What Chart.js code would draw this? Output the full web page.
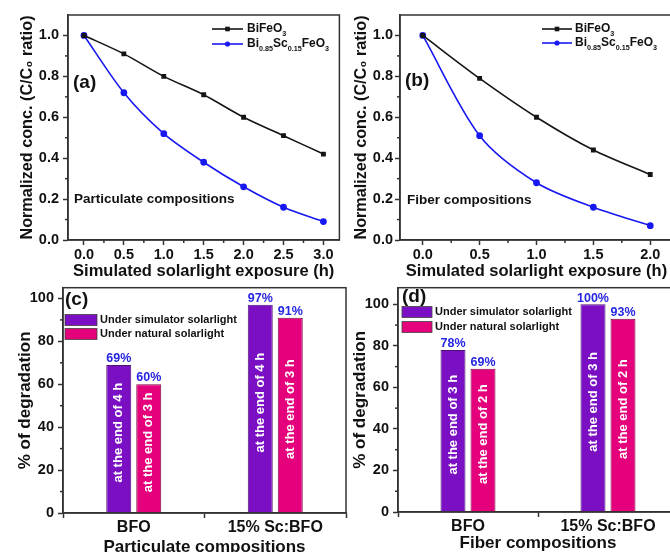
<!DOCTYPE html>
<html>
<head>
<meta charset="utf-8">
<script src="https://cdn.jsdelivr.net/npm/chart.js@4.4.1/dist/chart.umd.min.js"></script>
<style>
  html, body { margin: 0; padding: 0; background: #fff; overflow: hidden; width: 670px; height: 552px; }
  canvas { position: absolute; }
</style>
</head>
<body>
<canvas id="chartA" width="345" height="285" style="left:0;top:0"></canvas>
<canvas id="chartB" width="345" height="285" style="left:345px;top:0"></canvas>
<canvas id="chartC" width="350" height="290" style="left:0;top:275px"></canvas>
<canvas id="chartD" width="345" height="290" style="left:345px;top:275px"></canvas>
<script>
// ---- data ----
const hoursA = [0, 0.5, 1.0, 1.5, 2.0, 2.5, 3.0];
const bfoA = [1.0, 0.91, 0.80, 0.71, 0.60, 0.51, 0.42];
const scA = [1.0, 0.72, 0.52, 0.38, 0.26, 0.16, 0.09];

const hoursB = [0, 0.5, 1.0, 1.5, 2.0];
const bfoB = [1.0, 0.79, 0.60, 0.44, 0.32];
const scB = [1.0, 0.51, 0.28, 0.16, 0.07];

const xTicksA = [0, 0.5, 1.0, 1.5, 2.0, 2.5, 3.0];
const xTicksB = [0, 0.5, 1.0, 1.5, 2.0];
const yTicksLine = [0, 0.2, 0.4, 0.6, 0.8, 1.0];
const yTicksBar = [0, 20, 40, 60, 80, 100];

const barCats = ['BFO', '15% Sc:BFO'];
const simC = [69, 97];
const natC = [60, 91];
const simD = [78, 100];
const natD = [69, 93];
const notesSimC = ['at the end of 4 h', 'at the end of 4 h'];
const notesNatC = ['at the end of 3 h', 'at the end of 3 h'];
const notesSimD = ['at the end of 3 h', 'at the end of 3 h'];
const notesNatD = ['at the end of 2 h', 'at the end of 2 h'];

// series names with subscripts: [text, isSubscript]
const nameBFO = [['BiFeO', 0], ['3', 1]];
const nameSc = [['Bi', 0], ['0.85', 1], ['Sc', 0], ['0.15', 1], ['FeO', 0], ['3', 1]];
const barNames = ['Under simulator solarlight', 'Under natural solarlight'];

const FONT = "'Liberation Sans', Arial, Helvetica, sans-serif";
Chart.defaults.font.family = FONT;
Chart.defaults.font.weight = 'bold';
Chart.defaults.color = '#111';

const AXIS = '#333';
const PURPLE = '#7a0fc4';
const PINK = '#e5007c';

function pts(xs, ys) {
  return xs.map((x, i) => ({ x: x, y: ys[i] }));
}

function richText(ctx, x, y, parts, size) {
  let cx = x;
  parts.forEach(([t, sub]) => {
    ctx.font = `bold ${sub ? size * 0.6 : size}px ${FONT}`;
    ctx.fillText(t, cx, sub ? y + size * 0.38 : y);
    cx += ctx.measureText(t).width;
  });
}

function minorTicks(ctx, scale, step, horizontal, a) {
  if (!step) return;
  const majors = scale.ticks.map(t => t.value);
  for (let k = Math.ceil(scale.min / step - 1e-9); k * step <= scale.max + 1e-9; k++) {
    const v = k * step;
    if (majors.some(m => Math.abs(m - v) < 1e-6)) continue;
    const p = scale.getPixelForValue(v);
    ctx.beginPath();
    if (horizontal) {
      if (p < a.left + 1 || p > a.right - 1) continue;
      ctx.moveTo(p, a.bottom); ctx.lineTo(p, a.bottom + 3);
    } else {
      if (p < a.top + 1 || p > a.bottom - 1) continue;
      ctx.moveTo(a.left, p); ctx.lineTo(a.left - 3, p);
    }
    ctx.stroke();
  }
}

// box around plot area + minor ticks
const framePlugin = {
  id: 'frame',
  afterDraw(chart, args, o) {
    const { ctx, chartArea: a } = chart;
    ctx.save();
    ctx.strokeStyle = AXIS;
    ctx.lineWidth = 1.5;
    ctx.strokeRect(a.left, a.top, a.right - a.left, a.bottom - a.top);
    minorTicks(ctx, chart.scales.x, o.minorX, true, a);
    minorTicks(ctx, chart.scales.y, o.minorY, false, a);
    ctx.restore();
  }
};

// panel letters, captions, legends and bar annotations
const decorPlugin = {
  id: 'decor',
  afterDraw(chart, args, o) {
    const ctx = chart.ctx;
    ctx.save();
    ctx.textBaseline = 'middle';
    ctx.textAlign = 'left';
    ctx.fillStyle = '#111';
    if (o.panel) {
      ctx.font = `bold 19px ${FONT}`;
      ctx.fillText(o.panel, o.panelX, o.panelY);
    }
    if (o.note) {
      ctx.font = `bold 13.5px ${FONT}`;
      ctx.fillText(o.note, o.noteX, o.noteY);
    }
    if (o.lineLegend) {
      const L = o.lineLegend;
      chart.data.datasets.forEach((ds, i) => {
        const y = L.rows[i];
        ctx.strokeStyle = ds.borderColor;
        ctx.fillStyle = ds.borderColor;
        ctx.lineWidth = 1.6;
        ctx.beginPath(); ctx.moveTo(L.x1, y); ctx.lineTo(L.x2, y); ctx.stroke();
        const mx = (L.x1 + L.x2) / 2;
        if (ds.pointStyle === 'rect') {
          ctx.fillRect(mx - 2.3, y - 2.3, 4.6, 4.6);
        } else {
          ctx.beginPath(); ctx.arc(mx, y, 2.6, 0, Math.PI * 2); ctx.fill();
        }
        ctx.fillStyle = '#111';
        richText(ctx, L.tx, y, L.names[i], 12);
      });
    }
    if (o.boxLegend) {
      const L = o.boxLegend;
      chart.data.datasets.forEach((ds, i) => {
        const y = L.rows[i];
        ctx.fillStyle = ds.backgroundColor;
        ctx.fillRect(L.bx, y - 5.5, L.bw, 11);
        ctx.strokeStyle = '#444';
        ctx.lineWidth = 0.8;
        ctx.strokeRect(L.bx, y - 5.5, L.bw, 11);
        ctx.fillStyle = '#111';
        ctx.font = `bold 11px ${FONT}`;
        ctx.fillText(ds.label, L.tx, y);
      });
    }
    if (o.barNotes) {
      chart.data.datasets.forEach((ds, i) => {
        chart.getDatasetMeta(i).data.forEach((bar, j) => {
          ctx.fillStyle = '#2626e2';
          ctx.font = `bold 12.5px ${FONT}`;
          ctx.textAlign = 'center';
          ctx.textBaseline = 'bottom';
          ctx.fillText(ds.data[j] + '%', bar.x, bar.y);
          ctx.save();
          ctx.translate(bar.x, (bar.y + bar.base) / 2 - 6);
          ctx.rotate(-Math.PI / 2);
          ctx.fillStyle = '#fff';
          ctx.font = `bold 13px ${FONT}`;
          ctx.textBaseline = 'middle';
          ctx.fillText(ds.notes[j], 0, 0);
          ctx.restore();
        });
      });
    }
    ctx.restore();
  }
};

const gridOpts = { drawOnChartArea: false, drawTicks: true, tickLength: 5, tickColor: AXIS, tickWidth: 1.5 };
const borderOpts = { color: AXIS, width: 1.5 };

function linearX(min, max, ticks, height) {
  return {
    type: 'linear', min: min, max: max,
    afterBuildTicks: s => { s.ticks = ticks.map(v => ({ value: v })); },
    afterFit: s => { s.height = height; },
    grid: gridOpts, border: borderOpts,
    ticks: { font: { size: 14.5, weight: 'bold' }, color: '#111', padding: 1, maxRotation: 0, autoSkip: false,
      callback: v => Number(v).toFixed(1) },
    title: { display: true, text: 'Simulated solarlight exposure (h)', color: '#111',
      font: { size: 16.5, weight: 'bold' }, padding: { top: 0, bottom: 4 } }
  };
}

function linearY(width, titlePad, tickPad) {
  return {
    type: 'linear', min: 0, max: 1.1,
    afterBuildTicks: s => { s.ticks = yTicksLine.map(v => ({ value: v })); },
    afterFit: s => { s.width = width; },
    grid: gridOpts, border: borderOpts,
    ticks: { font: { size: 14.5, weight: 'bold' }, color: '#111', padding: tickPad,
      callback: v => Number(v).toFixed(1) },
    title: { display: true, text: 'Normalized conc. (C/C\u2080 ratio)', color: '#111',
      font: { size: 16.2, weight: 'bold' }, padding: { top: titlePad, bottom: 0 } }
  };
}

function barX(title, height, titlePad) {
  return {
    type: 'category',
    afterFit: s => { s.height = height; },
    grid: Object.assign({}, gridOpts, { offset: true }), border: borderOpts,
    ticks: { font: { size: 16, weight: 'bold' }, color: '#111', padding: 0, maxRotation: 0 },
    title: { display: true, text: title, color: '#111',
      font: { size: 17, weight: 'bold' }, padding: { top: 0, bottom: titlePad } }
  };
}

function barY(max, width, titlePad) {
  return {
    type: 'linear', min: 0, max: max,
    afterBuildTicks: s => { s.ticks = yTicksBar.map(v => ({ value: v })); },
    afterFit: s => { s.width = width; },
    grid: gridOpts, border: borderOpts,
    ticks: { font: { size: 14.5, weight: 'bold' }, color: '#111', padding: 4 },
    title: { display: true, text: '% of degradation', color: '#111',
      font: { size: 17, weight: 'bold' }, padding: { top: titlePad, bottom: 0 } }
  };
}

function lineSets(xs, a, b) {
  return [
    { label: 'BiFeO3', data: pts(xs, a), borderColor: '#151515', backgroundColor: '#151515',
      pointStyle: 'rect', pointRadius: 2.3, borderWidth: 1.6, tension: 0.3 },
    { label: 'Bi0.85Sc0.15FeO3', data: pts(xs, b), borderColor: '#1818f0', backgroundColor: '#1818f0',
      pointStyle: 'circle', pointRadius: 2.6, borderWidth: 1.6, tension: 0.3 }
  ];
}

function barSets(sim, nat, notesSim, notesNat, catPct) {
  return [
    { label: barNames[0], data: sim, notes: notesSim, backgroundColor: PURPLE, borderColor: '#4a1470',
      borderWidth: 1, categoryPercentage: catPct, barPercentage: 0.833 },
    { label: barNames[1], data: nat, notes: notesNat, backgroundColor: PINK, borderColor: '#7a0a44',
      borderWidth: 1, categoryPercentage: catPct, barPercentage: 0.833 }
  ];
}

// (a) particulate, line chart
new Chart(document.getElementById('chartA'), {
  type: 'line',
  data: { datasets: lineSets(hoursA, bfoA, scA) },
  options: {
    responsive: false, animation: false,
    layout: { padding: { top: 15, right: 2, left: 0, bottom: 0 } },
    plugins: {
      legend: { display: false }, tooltip: { enabled: false },
      frame: { minorX: 0.25, minorY: 0.1 },
      decor: {
        panel: '(a)', panelX: 73, panelY: 83,
        note: 'Particulate compositions', noteX: 74, noteY: 199,
        lineLegend: { x1: 212, x2: 243, tx: 247, rows: [29, 44], names: [nameBFO, nameSc] }
      }
    },
    scales: { x: linearX(-0.2, 3.2, xTicksA, 45), y: linearY(68, 18, 4) }
  },
  plugins: [framePlugin, decorPlugin]
});

// (b) fiber, line chart
new Chart(document.getElementById('chartB'), {
  type: 'line',
  data: { datasets: lineSets(hoursB, bfoB, scB) },
  options: {
    responsive: false, animation: false,
    layout: { padding: { top: 15, right: 17, left: 0, bottom: 0 } },
    plugins: {
      legend: { display: false }, tooltip: { enabled: false },
      frame: { minorX: 0.25, minorY: 0.1 },
      decor: {
        panel: '(b)', panelX: 60, panelY: 81,
        note: 'Fiber compositions', noteX: 62, noteY: 200,
        lineLegend: { x1: 197, x2: 227, tx: 230, rows: [29, 43], names: [nameBFO, nameSc] }
      }
    },
    scales: { x: linearX(-0.2, 2.2, xTicksB, 45), y: linearY(55, 7, 2) }
  },
  plugins: [framePlugin, decorPlugin]
});

// (c) particulate, % degradation
new Chart(document.getElementById('chartC'), {
  type: 'bar',
  data: { labels: barCats, datasets: barSets(simC, natC, notesSimC, notesNatC, 0.424) },
  options: {
    responsive: false, animation: false,
    layout: { padding: { top: 9, right: 4, left: 0, bottom: 0 } },
    plugins: {
      legend: { display: false }, tooltip: { enabled: false },
      frame: { minorY: 10 },
      decor: {
        panel: '(c)', panelX: 65, panelY: 25, barNotes: true,
        boxLegend: { bx: 65, bw: 32, tx: 100, rows: [45, 59] }
      }
    },
    scales: { x: barX('Particulate compositions', 52, 7), y: barY(105, 63, 15) }
  },
  plugins: [framePlugin, decorPlugin]
});

// (d) fiber, % degradation
new Chart(document.getElementById('chartD'), {
  type: 'bar',
  data: { labels: barCats, datasets: barSets(simD, natD, notesSimD, notesNatD, 0.4286) },
  options: {
    responsive: false, animation: false,
    layout: { padding: { top: 10, right: 12, left: 0, bottom: 0 } },
    plugins: {
      legend: { display: false }, tooltip: { enabled: false },
      frame: { minorY: 10 },
      decor: {
        panel: '(d)', panelX: 57, panelY: 22, barNotes: true,
        boxLegend: { bx: 57, bw: 30, tx: 90, rows: [37, 52] }
      }
    },
    scales: { x: barX('Fiber compositions', 53, 11), y: barY(108, 53, 5) }
  },
  plugins: [framePlugin, decorPlugin]
});
</script>
</body>
</html>
